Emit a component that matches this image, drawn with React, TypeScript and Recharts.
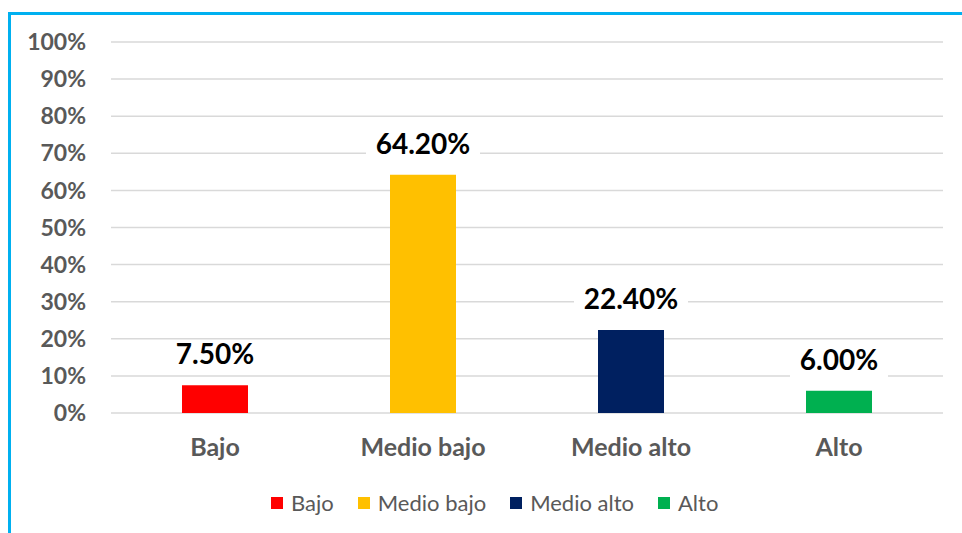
import { BarChart, Bar, Cell, XAxis, YAxis, CartesianGrid, Legend, LabelList } from 'recharts';

const categories = ['Bajo', 'Medio bajo', 'Medio alto', 'Alto'];
const values = [7.5, 64.2, 22.4, 6.0];
const colors = ['#ff0000', '#ffc000', '#002060', '#00b050'];
const yTicks = [0, 10, 20, 30, 40, 50, 60, 70, 80, 90, 100];

const data = categories.map((name, i) => ({ name, value: values[i], color: colors[i] }));

const FONT = 'Lato, "Noto Sans", sans-serif';

function BarLabel(props: any) {
  const { x, y, width, value } = props;
  const text = `${Number(value).toFixed(2)}%`;
  const cx = x + width / 2;
  const boxW = text.length * 16 + 18;
  return (
    <g>
      <rect x={cx - boxW / 2} y={y - 44} width={boxW} height={32} fill="#ffffff" />
      <text
        x={cx}
        y={y - 21}
        textAnchor="middle"
        fill="#000000"
        fontSize={28}
        fontWeight={700}
        fontFamily={FONT}
      >
        {text}
      </text>
    </g>
  );
}

function ChartLegend() {
  return (
    <div style={{ display: 'flex', alignItems: 'center', fontFamily: FONT, fontSize: 22, color: '#595959' }}>
      {data.map((d) => (
        <div key={d.name} style={{ display: 'flex', alignItems: 'center', marginRight: 24 }}>
          <span style={{ width: 12, height: 12, background: d.color, display: 'inline-block', marginRight: 8 }} />
          <span>{d.name}</span>
        </div>
      ))}
    </div>
  );
}

export default function App() {
  return (
    <div style={{ position: 'absolute', left: 0, top: 0, width: 962, height: 533, background: '#ffffff' }}>
      <div
        style={{
          position: 'absolute',
          left: 8,
          top: 12,
          width: 954,
          height: 521,
          borderTop: '3px solid #00b0f0',
          borderLeft: '3px solid #00b0f0',
          boxSizing: 'border-box',
        }}
      />
      <div style={{ position: 'absolute', left: 0, top: 0 }}>
        <BarChart
          width={962}
          height={533}
          data={data}
          margin={{ top: 42, right: 19, left: 0, bottom: 40 }}
          style={{ fontFamily: FONT }}
        >
          <CartesianGrid vertical={false} stroke="#d9d9d9" strokeWidth={1.5} />
          <XAxis
            dataKey="name"
            axisLine={false}
            tickLine={false}
            tickSize={0}
            tickMargin={25}
            height={40}
            tick={{ fill: '#595959', fontSize: 25, fontWeight: 700, fontFamily: FONT }}
          />
          <YAxis
            domain={[0, 100]}
            ticks={yTicks}
            tickFormatter={(v) => `${v}%`}
            axisLine={false}
            tickLine={false}
            tickSize={0}
            tickMargin={25}
            width={111}
            interval={0}
            tick={{ fill: '#595959', fontSize: 23, fontWeight: 700, fontFamily: FONT }}
          />
          <Legend
            verticalAlign="bottom"
            height={40}
            content={() => <ChartLegend />}
            wrapperStyle={{ top: 489, bottom: 'auto', left: 271, width: 'auto' }}
          />
          <Bar dataKey="value" barSize={66} isAnimationActive={false}>
            {data.map((d) => (
              <Cell key={d.name} fill={d.color} />
            ))}
            <LabelList dataKey="value" content={BarLabel} />
          </Bar>
        </BarChart>
      </div>
    </div>
  );
}
